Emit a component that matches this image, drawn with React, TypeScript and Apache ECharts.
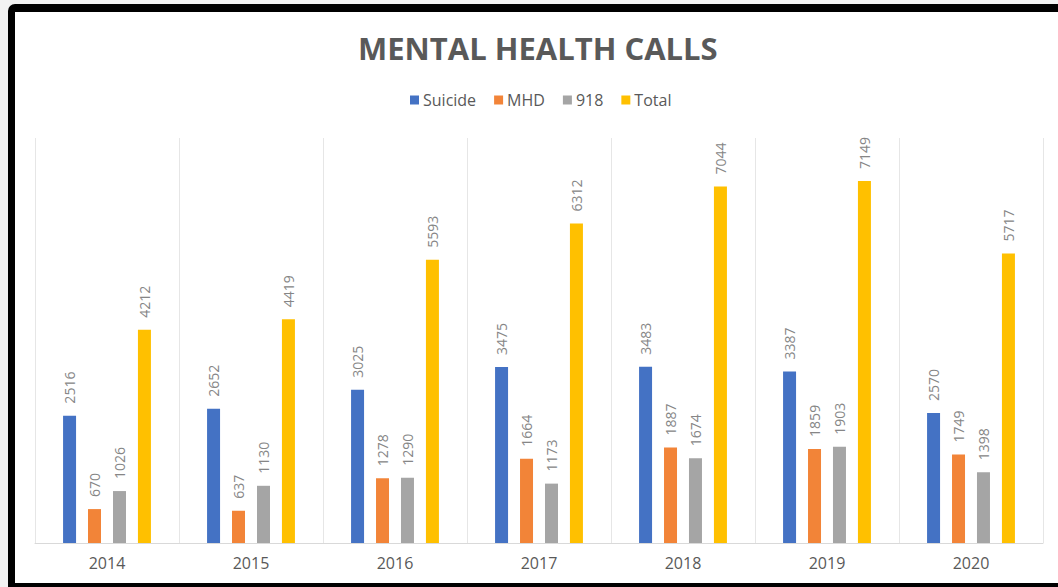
import React, { useEffect, useRef } from "react";
import * as echarts from "echarts";

const years = ["2014", "2015", "2016", "2017", "2018", "2019", "2020"];
const suicide = [2516, 2652, 3025, 3475, 3483, 3387, 2570];
const mhd = [670, 637, 1278, 1664, 1887, 1859, 1749];
const n918 = [1026, 1130, 1290, 1173, 1674, 1903, 1398];
const total = [4212, 4419, 5593, 6312, 7044, 7149, 5717];

const seriesDefs = [
  { name: "Suicide", data: suicide, color: "#4472C4" },
  { name: "MHD", data: mhd, color: "#F28438" },
  { name: "918", data: n918, color: "#A5A5A5" },
  { name: "Total", data: total, color: "#FFC000" },
];

export default function App() {
  const ref = useRef<HTMLDivElement>(null);
  useEffect(() => {
    if (!ref.current) return;
    const chart = echarts.init(ref.current, undefined, { renderer: "svg" });
    chart.setOption({
      animation: false,
      title: {
        text: "MENTAL HEALTH CALLS",
        left: 353,
        top: 27,
        textStyle: {
          fontFamily: "Open Sans",
          fontWeight: "bold",
          fontSize: 31,
          color: "#595959",
        },
      },
      legend: {
        top: 87,
        left: 405,
        itemWidth: 9,
        itemHeight: 9,
        itemGap: 18,
        icon: "rect",
        textStyle: { fontFamily: "Open Sans", fontSize: 16, color: "#595959", padding: [0, 0, 0, -1] },
        data: seriesDefs.map((s) => s.name),
      },
      grid: { left: 35, right: 15, top: 138, bottom: 44, containLabel: false },
      xAxis: {
        type: "category",
        data: years,
        axisLine: { lineStyle: { color: "#D9D9D9", width: 1 } },
        axisTick: { show: false },
        splitLine: { show: true, lineStyle: { color: "#E6E6E6", width: 1 } },
        axisLabel: {
          fontFamily: "Open Sans",
          fontSize: 16,
          color: "#595959",
          margin: 12,
        },
      },
      yAxis: {
        type: "value",
        min: 0,
        max: 8000,
        show: false,
        splitLine: { show: false },
      },
      series: seriesDefs.map((s) => ({
        name: s.name,
        type: "bar",
        data: s.data,
        barWidth: 13,
        barGap: "92%",
        itemStyle: { color: s.color },
        label: {
          show: true,
          position: "top",
          rotate: 90,
          align: "left",
          verticalAlign: "middle",
          distance: 12,
          fontFamily: "Open Sans",
          fontSize: 14,
          color: "#868686",
        },
      })),
    });
    return () => chart.dispose();
  }, []);
  return (
    <div
      style={{
        position: "fixed",
        left: 0,
        top: 0,
        width: 1058,
        height: 587,
        background: "#F2F2F2",
        overflow: "hidden",
      }}
    >
      <div
        style={{
          position: "absolute",
          left: 8,
          top: 4,
          width: 1100,
          height: 600,
          border: "7px solid #000",
          borderTopWidth: 8,
          borderRadius: 7,
          background: "#fff",
          boxSizing: "border-box",
        }}
      />
      <div
        style={{
          position: "absolute",
          left: 8,
          top: 583,
          width: 1100,
          height: 8,
          background: "#000",
        }}
      />
      <div ref={ref} style={{ position: "absolute", left: 0, top: 0, width: 1058, height: 587 }} />
    </div>
  );
}
